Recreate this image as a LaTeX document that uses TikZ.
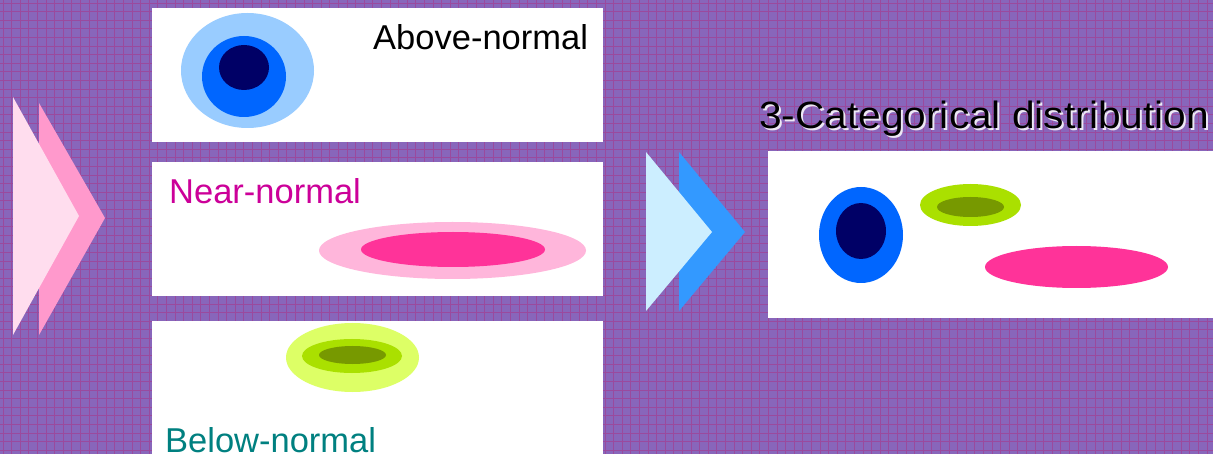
\documentclass[tikz,border=0pt]{standalone}
\usepackage{fontspec}
\setmainfont{Liberation Sans}
\usepackage{graphicx}
\definecolor{bgbase}{HTML}{8866BB}
\definecolor{bggrid}{HTML}{9A4A9E}
\definecolor{lblue}{HTML}{99CCFF}
\definecolor{mblue}{HTML}{0066FF}
\definecolor{navy}{HTML}{000066}
\definecolor{lpink}{HTML}{FFB6DB}
\definecolor{hpink}{HTML}{FF3399}
\definecolor{llime}{HTML}{DDFF66}
\definecolor{mlime}{HTML}{AAE000}
\definecolor{olive}{HTML}{779900}
\definecolor{chlpink}{HTML}{FFDDEE}
\definecolor{chpink}{HTML}{FF99CC}
\definecolor{chlcyan}{HTML}{CCEEFF}
\definecolor{chblue}{HTML}{3399FF}
\definecolor{magtext}{HTML}{CC0099}
\definecolor{tealtext}{HTML}{008080}
\tikzset{
  panel/.style={fill=white},
  lbl/.style={inner sep=0pt, anchor=base west, font=\fontsize{34.5}{40}\selectfont},
  ttl/.style={inner sep=0pt, anchor=base west, font=\fontsize{38}{44}\selectfont}
}
\begin{document}
\begin{tikzpicture}[x=1pt,y=-1pt]
\useasboundingbox (0,0) rectangle (1213,454);
\clip (0,0) rectangle (1213,454);
% background
\fill[bgbase] (0,0) rectangle (1213,454);
\foreach \i in {0,...,141} {
  \draw[bggrid, line width=0.9pt] (\i*8.6+3,0) -- (\i*8.6+3,454);
}
\foreach \j in {0,...,53} {
  \draw[bggrid, line width=0.9pt] (0,\j*8.6+3) -- (1213,\j*8.6+3);
}
% left chevrons
\fill[chpink] (39,103) -- (105,218) -- (39,335) -- cycle;
\fill[chlpink] (13,97) -- (79,216) -- (13,335) -- cycle;
% middle chevrons
\fill[chblue] (679,152) -- (745,232) -- (679,311) -- cycle;
\fill[chlcyan] (646,152) -- (712,232) -- (646,311) -- cycle;
% panels
\fill[panel] (152,8) rectangle (603,142);
\fill[panel] (152,162) rectangle (603,296);
\fill[panel] (152,321) rectangle (603,460);
\fill[panel] (768,151) rectangle (1220,318);
% above-normal
\fill[lblue] (247.5,70.5) ellipse [x radius=66.5, y radius=57.5];
\fill[mblue] (244,76.5) ellipse [x radius=42, y radius=40.5];
\fill[navy] (244,67.5) ellipse [x radius=25, y radius=22.5];
\node[lbl] (above) at (373,50) {Above-normal};
% near-normal
\fill[lpink] (452.5,250.5) ellipse [x radius=133.5, y radius=28.5];
\fill[hpink] (453,249.5) ellipse [x radius=92, y radius=17.5];
\node[lbl, text=magtext] (near) at (169,204) {Near-normal};
% below-normal
\fill[llime] (352.5,357.5) ellipse [x radius=66.5, y radius=34.5];
\fill[mlime] (352,356) ellipse [x radius=50, y radius=17];
\fill[olive] (352.5,355) ellipse [x radius=33.5, y radius=9];
\node[lbl, text=tealtext] (below) at (165,452) {Below-normal};
% combined
\fill[mblue] (861,235) ellipse [x radius=42, y radius=48];
\fill[navy] (861,231) ellipse [x radius=25, y radius=28];
\fill[mlime] (970.5,205) ellipse [x radius=50.5, y radius=21];
\fill[olive] (970.5,207) ellipse [x radius=33.5, y radius=10];
\fill[hpink] (1076.5,267) ellipse [x radius=91.5, y radius=21];
% title with shadow
\node[ttl, text=white!85!bgbase] (titleshadow) at (761,131) {\scalebox{1.07}[1]{3-Categorical distribution}};
\node[ttl, text=black] (title) at (759,129) {\scalebox{1.07}[1]{3-Categorical distribution}};
\end{tikzpicture}
\end{document}
